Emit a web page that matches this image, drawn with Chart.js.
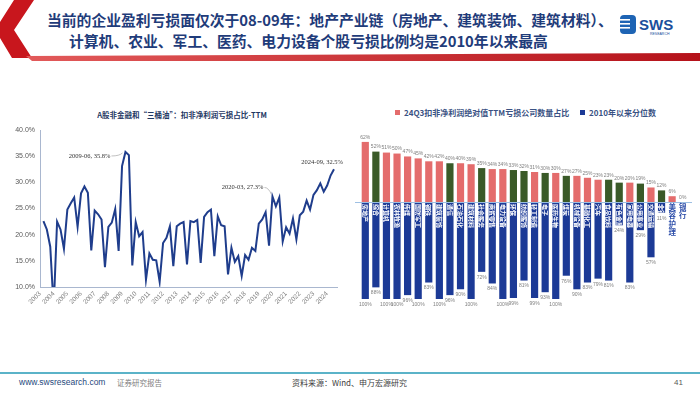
<!DOCTYPE html>
<html>
<head>
<meta charset="utf-8">
<script src="https://cdn.jsdelivr.net/npm/chart.js@4.4.1/dist/chart.umd.min.js"></script>
<style>
  body { margin: 0; }
  #slide { position: relative; width: 700px; height: 394px; overflow: hidden; background: #fff;
           font-family: "Noto Sans CJK SC", "Liberation Sans", sans-serif; }
  .t { position: absolute; white-space: nowrap; }
  .box { position: absolute; }
</style>
</head>
<body>
<div id="slide">
  <svg width="700" height="66" style="position:absolute;left:0;top:0">
    <defs>
      <linearGradient id="redbar" x1="0" x2="1" y1="0" y2="0">
        <stop offset="0" stop-color="#E25A5A"/>
        <stop offset="1" stop-color="#B5121A"/>
      </linearGradient>
    </defs>
    <polygon points="14,0 34,0 14,30 32,58 12,58 0,38 0,22" fill="#C8161D"/>
    <polygon points="26,56 700,53 700,61 32,61" fill="url(#redbar)"/>
    <g>
      <rect x="620" y="15" width="16" height="19" rx="4" fill="#1E64B4"/>
      <rect x="620" y="19" width="10" height="1.6" fill="#fff"/>
      <rect x="620" y="23" width="10" height="1.6" fill="#fff"/>
      <rect x="620" y="27" width="10" height="1.6" fill="#fff"/>
      <text x="639" y="30" font-family="Liberation Sans" font-weight="700" font-size="15" fill="#1B4F9C">SWS</text>
      <text x="650" y="35" font-family="Liberation Sans" font-size="3.5" fill="#1B4F9C">RESEARCH</text>
    </g>
  </svg>

  <div class="t" style="left:47px;top:10px;font-size:14.8px;line-height:20px;font-weight:700;color:#1F3C7A">当前的企业盈利亏损面仅次于08-09年：地产产业链（房地产、建筑装饰、建筑材料）、</div>
  <div class="t" style="left:69px;top:31px;font-size:14.8px;line-height:20px;font-weight:700;color:#1F3C7A">计算机、农业、军工、医药、电力设备个股亏损比例均是2010年以来最高</div>

  <div class="t" style="left:182px;top:110px;transform:translateX(-50%);font-size:7.5px;line-height:10px;font-weight:700;color:#1F3864">A股非金融和“三桶油”：扣非净利润亏损占比-TTM</div>
  <div class="box" style="left:0;top:105px;width:350px;height:200px"><canvas id="lineChart"></canvas></div>

  <div class="t" style="left:395px;top:110px;width:5px;height:5px;background:#E46C6C"></div>
  <div class="t" style="left:404px;top:107px;font-size:8px;line-height:11px;font-weight:700;color:#3A5283">24Q3扣非净利润绝对值TTM亏损公司数量占比</div>
  <div class="t" style="left:580px;top:110px;width:5px;height:5px;background:#1C3A96"></div>
  <div class="t" style="left:589px;top:107px;font-size:8px;line-height:11px;font-weight:700;color:#3A5283">2010年以来分位数</div>
  <div class="box" style="left:350px;top:100px;width:350px;height:215px"><canvas id="barChart"></canvas></div>

  <div class="t" style="left:0;top:372px;width:700px;height:2px;background:#5BB3C8"></div>
  <div class="t" style="left:19px;top:377px;font-family:'Liberation Sans';font-size:8.5px;line-height:11px;color:#1F497D">www.swsresearch.com</div>
  <div class="t" style="left:117px;top:377px;font-size:7.5px;line-height:11px;color:#7F7F7F">证券研究报告</div>
  <div class="t" style="left:292px;top:377px;font-size:8px;line-height:11px;color:#404040">资料来源：Wind、申万宏源研究</div>
  <div class="t" style="left:674px;top:377px;font-family:'Liberation Sans';font-size:8px;line-height:11px;color:#595959">41</div>
</div>

<script>
// ---- left chart: share of loss-making companies (quarterly, TTM) ----
const quarterLabels = [];
for (let y = 2003; y <= 2024; y++) {
  for (const m of ['03', '06', '09', '12']) {
    const s = y + '-' + m;
    if (s >= '2003-06' && s <= '2024-09') quarterLabels.push(s);
  }
}
const lossRatio = [
  22.6, 21.0, 17.7, 6.0, 22.5, 21.0, 17.3, 24.8, 26.0, 27.1,
  21.5, 27.9, 29.2, 28.0, 17.0, 24.6, 23.9, 22.9, 13.8, 21.5,
  22.3, 24.9, 16.9, 33.1, 35.8, 35.2, 14.1, 22.4, 19.7, 20.5,
  11.4, 16.4, 15.2, 15.1, 11.0, 18.4, 19.4, 21.6, 14.0, 21.6,
  22.1, 22.4, 14.3, 22.6, 22.4, 22.8, 14.6, 23.4, 24.3, 24.8,
  15.9, 23.5, 21.8, 21.6, 12.4, 17.5, 14.8, 15.9, 12.1, 16.1,
  15.2, 17.5, 16.9, 22.1, 22.9, 24.3, 17.9, 27.3, 25.4, 27.1,
  18.7, 21.4, 20.2, 23.1, 19.1, 23.7, 24.4, 26.5, 24.8, 27.6,
  28.5, 29.8, 28.2, 29.4, 31.3, 32.5
];
const yearTicks = [2003, 2004, 2005, 2006, 2007, 2008, 2009, 2010, 2011, 2012, 2013,
  2014, 2015, 2016, 2017, 2018, 2019, 2020, 2021, 2022, 2023, 2024];
const noteDates = ['2009-06', '2020-03', '2024-09'];

// ---- right chart: industries ----
const industries = ['房地产', '综合', '计算机', '农林牧渔', '传媒', '国防军工', '钢铁', '建筑装饰',
  '通信', '石油石化', '建筑材料', '社会服务', '商贸零售', '电力设备', '环保', '纺织服饰',
  '轻工制造', '电子', '医药生物', '煤炭', '机械设备', '基础化工', '汽车', '食品饮料',
  '有色金属', '家用电器', '公用事业', '交通运输', '非银金融', '美容护理', '银行'];
const lossShare = [62, 52, 51, 50, 47, 45, 42, 42, 40, 40, 39, 35, 34, 34, 33, 32,
  31, 30, 30, 27, 27, 25, 23, 23, 20, 20, 19, 15, 12, 6, 0];
const percentile = [100, 88, 100, 100, 96, 100, 83, 100, 96, 90, 100, 72, 84, 100, 99, 81,
  99, 93, 100, 76, 90, 83, 79, 81, 24, 83, 29, 57, 11, null, null];
const greenIndustries = ['综合', '通信', '社会服务', '环保', '纺织服饰', '电子', '煤炭',
  '食品饮料', '有色金属', '公用事业', '非银金融'];

const RED = '#E46C6C', GREEN = '#3A5A28', BLUE = '#1C3A96';
const AXIS = '#A9B7CF';

function toYear(q) {
  return Number(q.slice(0, 4)) + (Number(q.slice(5)) - 3) / 12;
}

const linePoints = quarterLabels.map((q, i) => ({ x: toYear(q), y: lossRatio[i] }));

const lineNotes = {
  id: 'lineNotes',
  afterDatasetsDraw(chart) {
    const { ctx } = chart;
    const xs = chart.scales.x, ys = chart.scales.y;
    // text offset and leader end, relative to the point
    const place = [
      { dx: -15, dy: 4, lx: -3, ly: 1 },
      { dx: -9, dy: -9, lx: -1, ly: -2 },
      { dx: 9, dy: -7, lx: 0, ly: -3 }
    ];
    ctx.save();
    ctx.font = '6.5px "Liberation Serif"';
    ctx.fillStyle = '#333';
    ctx.strokeStyle = '#A6A6A6';
    ctx.lineWidth = 0.7;
    ctx.textAlign = 'right';
    ctx.textBaseline = 'middle';
    noteDates.forEach((d, k) => {
      const i = quarterLabels.indexOf(d);
      const px = xs.getPixelForValue(toYear(d));
      const py = ys.getPixelForValue(lossRatio[i]);
      const p = place[k];
      ctx.fillText(d + ', ' + lossRatio[i].toFixed(1) + '%', px + p.dx, py + p.dy);
      if (k < 2) {
        ctx.beginPath();
        ctx.moveTo(px + p.dx + 1, py + p.dy);
        ctx.quadraticCurveTo(px + p.lx - 3, py + p.dy, px + p.lx, py + p.ly);
        ctx.stroke();
      }
    });
    ctx.restore();
  }
};

new Chart(document.getElementById('lineChart'), {
  type: 'line',
  data: {
    datasets: [{
      data: linePoints,
      borderColor: '#1F3D8C',
      borderWidth: 2,
      pointRadius: 0,
      tension: 0
    }]
  },
  options: {
    animation: false,
    responsive: true,
    maintainAspectRatio: false,
    layout: { padding: { top: 25, right: 13, left: 0, bottom: 0 } },
    plugins: { legend: { display: false }, tooltip: { enabled: false } },
    scales: {
      x: {
        type: 'linear',
        min: 2003,
        max: 2024.72,
        afterBuildTicks: s => { s.ticks = yearTicks.map(v => ({ value: v })); },
        grid: { display: false, drawTicks: false },
        border: { color: AXIS },
        ticks: {
          autoSkip: false, maxRotation: 45, minRotation: 45, padding: 3,
          color: '#7F7F7F', font: { family: 'Liberation Sans', size: 6.5 },
          callback: v => String(v)
        },
        afterFit: s => { s.height = 18; }
      },
      y: {
        min: 10,
        max: 40,
        grid: { display: false, drawTicks: false },
        border: { color: AXIS },
        ticks: {
          stepSize: 5, padding: 5,
          color: '#595959', font: { family: 'Liberation Sans', size: 7 },
          callback: v => v.toFixed(1) + '%'
        },
        afterFit: s => { s.width = 40; }
      }
    }
  },
  plugins: [lineNotes]
});

const barNotes = {
  id: 'barNotes',
  afterDatasetsDraw(chart) {
    const { ctx, chartArea } = chart;
    const ys = chart.scales.y;
    const zeroY = ys.getPixelForValue(0);
    const redMeta = chart.getDatasetMeta(0), blueMeta = chart.getDatasetMeta(1);
    ctx.save();
    ctx.strokeStyle = '#9DBFE3';
    ctx.lineWidth = 1;
    ctx.beginPath();
    ctx.moveTo(chartArea.left - 5, zeroY + 0.5);
    ctx.lineTo(chartArea.right + 4, zeroY + 0.5);
    ctx.stroke();

    ctx.font = '5px "Liberation Sans"';
    ctx.fillStyle = '#7F7F7F';
    ctx.textAlign = 'center';
    industries.forEach((name, i) => {
      const r = redMeta.data[i];
      ctx.textBaseline = 'bottom';
      ctx.fillText(lossShare[i] + '%', r.x, r.y - 2);
      const p = percentile[i];
      if (p != null) {
        const b = blueMeta.data[i];
        ctx.textBaseline = 'top';
        ctx.fillText(p + '%', b.x, b.y + 3);
        ctx.save();
        ctx.beginPath();
        ctx.rect(b.x - b.width / 2, zeroY, b.width, b.y - zeroY);
        ctx.clip();
        ctx.translate(b.x, zeroY + 2);
        ctx.rotate(Math.PI / 2);
        ctx.font = 'bold 6px "Noto Sans CJK SC"';
        ctx.fillStyle = '#fff';
        ctx.textAlign = 'left';
        ctx.textBaseline = 'middle';
        ctx.fillText(name, 0, 0);
        ctx.restore();
      } else {
        ctx.save();
        ctx.font = 'bold 7.5px "Noto Sans CJK SC"';
        ctx.fillStyle = '#2A4BA8';
        ctx.textBaseline = 'middle';
        [...name].forEach((ch, k) => ctx.fillText(ch, r.x, zeroY + 5 + k * 8.5));
        ctx.restore();
      }
    });
    ctx.restore();
  }
};

new Chart(document.getElementById('barChart'), {
  type: 'bar',
  data: {
    labels: industries,
    datasets: [
      {
        label: '24Q3扣非净利润绝对值TTM亏损公司数量占比',
        data: lossShare,
        backgroundColor: industries.map(n => greenIndustries.includes(n) ? GREEN : RED)
      },
      {
        label: '2010年以来分位数',
        data: percentile.map(p => p == null ? null : -p),
        backgroundColor: BLUE
      }
    ]
  },
  options: {
    animation: false,
    responsive: true,
    maintainAspectRatio: false,
    layout: { padding: { top: 39, bottom: 16, left: 10, right: 12 } },
    datasets: { bar: { grouped: false, categoryPercentage: 1, barPercentage: 0.68 } },
    plugins: { legend: { display: false }, tooltip: { enabled: false } },
    scales: {
      x: { display: false },
      y: { display: false, min: -100, max: 65 }
    }
  },
  plugins: [barNotes]
});
</script>
</body>
</html>
